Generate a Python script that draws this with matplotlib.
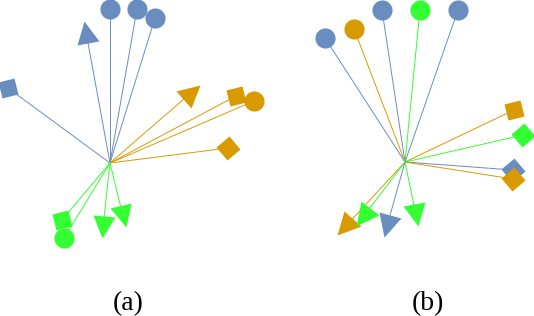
import numpy as np
import matplotlib.pyplot as plt
from matplotlib.markers import MarkerStyle
from matplotlib.transforms import Affine2D

# vectors of panel (a) and (b): x, y, colour, marker
a_x = [-1.02, -0.24, 0.00, 0.27, 0.45, 0.82, 1.26, 1.44, 1.18, -0.48, -0.46, -0.07, 0.13]
a_y = [0.75, 1.31, 1.54, 1.54, 1.45, 0.71, 0.67, 0.62, 0.15, -0.57, -0.75, -0.64, -0.53]
a_col = ["b", "b", "b", "b", "b", "o", "o", "o", "o", "g", "g", "g", "g"]
a_mark = ["s", "^", "o", "o", "o", "^", "s", "o", "D", "s", "o", "^", "^"]

b_x = [-0.80, -0.51, -0.23, 0.15, 0.53, 1.09, 1.18, 1.08, 1.08, -0.60, -0.42, -0.18, 0.11]
b_y = [1.24, 1.33, 1.52, 1.52, 1.52, 0.52, 0.27, -0.08, -0.17, -0.65, -0.55, -0.64, -0.53]
b_col = ["b", "o", "b", "g", "b", "o", "g", "b", "o", "o", "g", "b", "g"]
b_mark = ["o", "o", "o", "o", "o", "s", "D", "D", "D", "^", "^", "^", "^"]

labels = ["(a)", "(b)"]

colors = {"b": "#6a8dc0", "o": "#d99a00", "g": "#33ff33"}
sizes = {"o": 14.5, "^": 16, "s": 12, "D": 12}


def star(ax, xs, ys, cols, marks):
    for x, y, c in zip(xs, ys, cols):
        ax.plot([0, x], [0, y], color=colors[c], lw=0.7, zorder=1)
    for x, y, c, m in zip(xs, ys, cols, marks):
        ang = np.degrees(np.arctan2(y, x))
        if m == "^":
            ms = MarkerStyle("^", transform=Affine2D().rotate_deg(ang - 90))
        elif m == "s":
            ms = MarkerStyle("s", transform=Affine2D().rotate_deg(15))
        elif m == "D":
            ms = MarkerStyle("s", transform=Affine2D().rotate_deg(40))
        else:
            ms = MarkerStyle("o")
        ax.plot(x, y, marker=ms, ms=sizes[m], color=colors[c], mec="none",
                ls="none", zorder=2, clip_on=False)


fig = plt.figure(figsize=(5.34, 3.16), dpi=100)
ax1 = fig.add_axes([0, 0, 0.5, 1])
ax2 = fig.add_axes([0.5, 0, 0.5, 1])

star(ax1, a_x, a_y, a_col, a_mark)
star(ax2, b_x, b_y, b_col, b_mark)

ax1.set_xlim(-1.10, 1.57)
ax1.set_ylim(-1.53, 1.63)
ax2.set_xlim(-1.38, 1.29)
ax2.set_ylim(-1.54, 1.62)
for ax in (ax1, ax2):
    ax.axis("off")

fig.text(128 / 534, 1 - 310 / 316, labels[0], ha="center", va="baseline",
         fontsize=20, family="Liberation Serif")
fig.text(428 / 534, 1 - 310 / 316, labels[1], ha="center", va="baseline",
         fontsize=20, family="Liberation Serif")

fig.savefig("out.png", dpi=100)
